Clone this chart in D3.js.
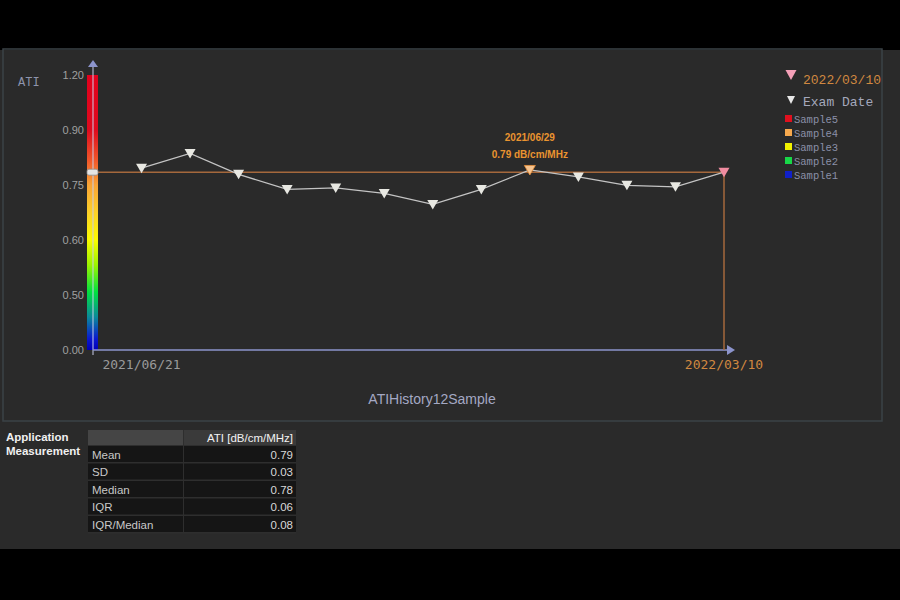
<!DOCTYPE html>
<html lang="en">
<head>
<meta charset="UTF-8">
<title>ATIHistory12Sample</title>
<script src="https://d3js.org/d3.v7.min.js"></script>
<style>
  html, body { margin: 0; padding: 0; background: #000; }
  svg { display: block; }
</style>
</head>
<body>
<div id="chart"></div>
<script>
// ---- data ----
const examIndex = [1, 2, 3, 4, 5, 6, 7, 8, 9, 10, 11, 12, 13];
const atiValues = [0.796, 0.836, 0.779, 0.738, 0.742, 0.727, 0.697, 0.738, 0.791, 0.772, 0.749, 0.745, 0.785];
const yTicks = [0.00, 0.50, 0.60, 0.75, 0.90, 1.20];
const firstDate = '2021/06/21';
const lastDate = '2022/03/10';
const highlightIdx = 9;
const highlightDate = '2021/06/29';
const highlightLabel = '0.79 dB/cm/MHz';
const sampleNames = ['Sample5', 'Sample4', 'Sample3', 'Sample2', 'Sample1'];
const sampleColors = ['#e0101e', '#f7a94e', '#f2f200', '#18d848', '#1020c8'];
const statNames = ['Mean', 'SD', 'Median', 'IQR', 'IQR/Median'];
const statValues = ['0.79', '0.03', '0.78', '0.06', '0.08'];
const statHeader = 'ATI [dB/cm/MHz]';

const W = 900, H = 600;
const svg = d3.select('#chart').append('svg')
    .attr('width', W).attr('height', H);

// backgrounds
svg.append('rect').attr('width', W).attr('height', H).attr('fill', '#000');
svg.append('rect').attr('x', 0).attr('y', 50).attr('width', W).attr('height', 499).attr('fill', '#2a2a2a');
svg.append('rect').attr('x', 3).attr('y', 49).attr('width', 879).attr('height', 372)
    .attr('fill', 'none').attr('stroke', '#3b4347').attr('stroke-width', 1.5);

// scales (piecewise: ticks are evenly spaced)
const yBottom = 350, yStep = 55;
const y = d3.scaleLinear()
    .domain(yTicks)
    .range(yTicks.map((d, i) => yBottom - i * yStep));
const x = d3.scaleLinear().domain([0, 13]).range([93, 724]);

const defs = svg.append('defs');
const grad = defs.append('linearGradient').attr('id', 'atiGrad')
    .attr('x1', 0).attr('y1', 0).attr('x2', 0).attr('y2', 1);
[[0, '#e2001c'], [0.2, '#de0a1e'], [0.31, '#f0562a'], [0.4, '#f9a436'],
 [0.5, '#fcd028'], [0.6, '#fbfb00'], [0.69, '#9cf200'], [0.79, '#00e040'],
 [0.88, '#0a8a9a'], [0.96, '#0a18d0'], [1, '#0000b8']]
  .forEach(s => grad.append('stop').attr('offset', s[0]).attr('stop-color', s[1]));

// colour bar
const x0 = x(0);
svg.append('rect')
    .attr('x', x0 - 6).attr('y', y(1.2))
    .attr('width', 11).attr('height', y(0) - y(1.2))
    .attr('fill', 'url(#atiGrad)');

// y axis line + arrow
const axisCol = '#8c94cc';
svg.append('line').attr('x1', x0).attr('x2', x0).attr('y1', y(0) + 5).attr('y2', 66)
    .attr('stroke', '#c8cce8').attr('stroke-width', 1);
svg.append('path').attr('d', `M${x0 - 5},67 L${x0},60 L${x0 + 5},67 Z`).attr('fill', axisCol);

// x axis line + arrow
svg.append('line').attr('x1', x0).attr('x2', 728).attr('y1', y(0)).attr('y2', y(0))
    .attr('stroke', axisCol).attr('stroke-width', 1.5);
svg.append('path').attr('d', `M727,${y(0) - 5} L735,${y(0)} L727,${y(0) + 5} Z`).attr('fill', axisCol);

// y tick labels
const yAxis = d3.axisLeft(y).tickValues(yTicks).tickFormat(d3.format('.2f')).tickSize(0).tickPadding(9);
const yg = svg.append('g').attr('transform', `translate(${x0},0)`).call(yAxis);
yg.select('.domain').remove();
yg.selectAll('text').attr('fill', '#a0a0a0').style('font-family', 'Liberation Sans, Arial, sans-serif')
    .style('font-size', '11px');

svg.append('text').attr('x', 18).attr('y', 86).text('ATI')
    .attr('fill', '#8e94ac').style('font-family', 'Liberation Mono, monospace').style('font-size', '12px');

// reference lines at the last exam value
const lastVal = atiValues[atiValues.length - 1];
const refCol = '#a5683c';
svg.append('line').attr('x1', x0 + 5).attr('x2', x(13)).attr('y1', y(lastVal)).attr('y2', y(lastVal))
    .attr('stroke', refCol).attr('stroke-width', 1.5);
svg.append('line').attr('x1', x(13)).attr('x2', x(13)).attr('y1', y(lastVal)).attr('y2', y(0))
    .attr('stroke', refCol).attr('stroke-width', 1.5);

// slider marker on colour bar
svg.append('rect').attr('x', x0 - 6).attr('y', y(lastVal) - 3).attr('width', 11).attr('height', 6)
    .attr('rx', 2).attr('fill', '#e4e4e4').attr('stroke', '#8a8a8a').attr('stroke-width', 0.8);

// data line
const pts = examIndex.map((d, i) => ({ i: d, v: atiValues[i] }));
svg.append('path').datum(pts)
    .attr('d', d3.line().x(d => x(d.i)).y(d => y(d.v)))
    .attr('fill', 'none').attr('stroke', '#c4c4c4').attr('stroke-width', 1.2);

// triangles
const tri = 'M-5.5,-4.5 L5.5,-4.5 L0,5 Z';
svg.selectAll('.tri').data(pts).enter().append('path')
    .attr('class', 'tri')
    .attr('d', tri)
    .attr('transform', d => `translate(${x(d.i)},${y(d.v)})`)
    .attr('fill', d => d.i === 13 ? '#f08ca0' : d.i === highlightIdx ? '#f6c490' : '#e8e8e2')
    .attr('stroke', d => d.i === highlightIdx ? '#e8903a' : 'none')
    .attr('stroke-width', 0.8);

// highlight annotation
const hx = x(highlightIdx);
svg.append('text').attr('x', hx).attr('y', 141).attr('text-anchor', 'middle').text(highlightDate)
    .attr('fill', '#ea9430').style('font-family', 'Liberation Sans, Arial, sans-serif')
    .style('font-size', '10px').style('font-weight', 'bold');
svg.append('text').attr('x', hx).attr('y', 158).attr('text-anchor', 'middle').text(highlightLabel)
    .attr('fill', '#ea9430').style('font-family', 'Liberation Sans, Arial, sans-serif')
    .style('font-size', '10px').style('font-weight', 'bold');

// x labels
svg.append('text').attr('x', x(1)).attr('y', 369).attr('text-anchor', 'middle').text(firstDate)
    .attr('fill', '#9a9a9a').style('font-family', 'DejaVu Sans Mono, monospace').style('font-size', '13px');
svg.append('text').attr('x', x(13)).attr('y', 369).attr('text-anchor', 'middle').text(lastDate)
    .attr('fill', '#d08840').style('font-family', 'DejaVu Sans Mono, monospace').style('font-size', '13px');

// title
svg.append('text').attr('x', 432).attr('y', 404).attr('text-anchor', 'middle').text('ATIHistory12Sample')
    .attr('fill', '#a4a8c4').style('font-family', 'Liberation Sans, Arial, sans-serif').style('font-size', '14px');

// legend
svg.append('path').attr('d', 'M785.5,70 L796.5,70 L791,80 Z').attr('fill', '#f4a0b8');
svg.append('text').attr('x', 803).attr('y', 84).text(lastDate)
    .attr('fill', '#d08840').style('font-family', 'Liberation Mono, monospace').style('font-size', '13px');
svg.append('path').attr('d', 'M787,96 L795,96 L791,104 Z').attr('fill', '#e8e8e8');
svg.append('text').attr('x', 803).attr('y', 106).text('Exam Date')
    .attr('fill', '#a4a8bc').style('font-family', 'Liberation Mono, monospace').style('font-size', '13px');
const leg = svg.selectAll('.leg').data(sampleNames).enter().append('g')
    .attr('class', 'leg').attr('transform', (d, i) => `translate(785,${115 + i * 14})`);
leg.append('rect').attr('width', 7).attr('height', 7).attr('fill', (d, i) => sampleColors[i]);
leg.append('text').attr('x', 9).attr('y', 8).text(d => d)
    .attr('fill', '#8a90a8').style('font-family', 'Liberation Mono, monospace').style('font-size', '10.5px');

// measurement table
const tf = 'Liberation Sans, Arial, sans-serif';
svg.append('text').attr('x', 6).attr('y', 441).text('Application')
    .attr('fill', '#f0f0f0').style('font-family', tf).style('font-size', '11.5px').style('font-weight', 'bold');
svg.append('text').attr('x', 6).attr('y', 455).text('Measurement')
    .attr('fill', '#f0f0f0').style('font-family', tf).style('font-size', '11.5px').style('font-weight', 'bold');

const tX = 88, tW = 208, c1 = 96, hH = 16, rH = 17.5, tY = 430;
svg.append('rect').attr('x', tX).attr('y', tY).attr('width', tW).attr('height', hH + rH * statNames.length)
    .attr('fill', '#2e2e2e');
svg.append('rect').attr('x', tX).attr('y', tY).attr('width', c1 - 1).attr('height', hH - 1).attr('fill', '#454545');
svg.append('rect').attr('x', tX + c1).attr('y', tY).attr('width', tW - c1).attr('height', hH - 1).attr('fill', '#3a3a3a');
svg.append('text').attr('x', tX + tW - 3).attr('y', tY + 12).attr('text-anchor', 'end').text(statHeader)
    .attr('fill', '#f2f2f2').style('font-family', tf).style('font-size', '11.5px');

const rows = svg.selectAll('.row').data(statNames).enter().append('g')
    .attr('class', 'row').attr('transform', (d, i) => `translate(${tX},${tY + hH + i * rH})`);
rows.append('rect').attr('width', c1 - 1).attr('height', rH - 1.5).attr('fill', '#151515');
rows.append('rect').attr('x', c1).attr('width', tW - c1).attr('height', rH - 1.5).attr('fill', '#151515');
rows.append('text').attr('x', 4).attr('y', 12.5).text(d => d)
    .attr('fill', '#c8c8c8').style('font-family', tf).style('font-size', '11.5px');
rows.append('text').attr('x', tW - 3).attr('y', 12.5).attr('text-anchor', 'end').text((d, i) => statValues[i])
    .attr('fill', '#d8d8d8').style('font-family', tf).style('font-size', '11.5px');
</script>
</body>
</html>
